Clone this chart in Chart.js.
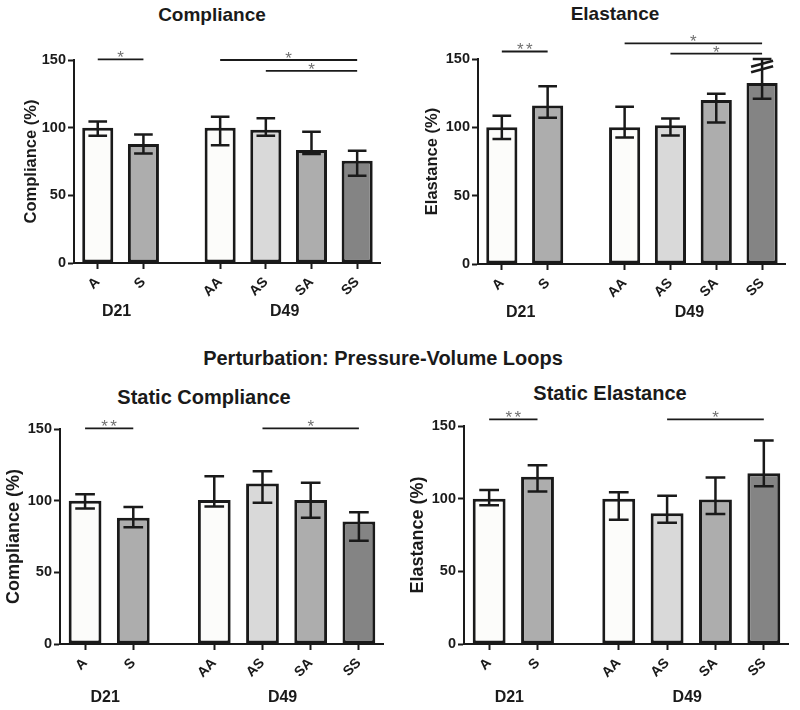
<!DOCTYPE html>
<html>
<head>
<meta charset="utf-8">
<script src="https://cdn.jsdelivr.net/npm/chart.js@4.4.0/dist/chart.umd.min.js"></script>
<style>
  body { margin: 0; background: #fff; width: 800px; height: 710px; position: relative; overflow: hidden;
         font-family: 'Liberation Sans', Arial, sans-serif; }
  .panel { position: absolute; }
  .t { position: absolute; font-weight: bold; color: #1a1a1a; white-space: nowrap; transform: translate(-50%, -50%); }
</style>
</head>
<body>
<div class="t" style="left:212px;top:15px;font-size:19px">Compliance</div>
<div class="t" style="left:615px;top:14px;font-size:19px">Elastance</div>
<div class="t" style="left:383px;top:358px;font-size:20px">Perturbation: Pressure-Volume Loops</div>
<div class="t" style="left:204px;top:397px;font-size:20px">Static Compliance</div>
<div class="t" style="left:610px;top:393px;font-size:20px">Static Elastance</div>

<div class="panel" style="left:0;top:0;width:400px;height:330px"><canvas id="c1"></canvas></div>
<div class="panel" style="left:400px;top:0;width:400px;height:330px"><canvas id="c2"></canvas></div>
<div class="panel" style="left:0;top:340px;width:400px;height:370px"><canvas id="c3"></canvas></div>
<div class="panel" style="left:400px;top:340px;width:400px;height:370px"><canvas id="c4"></canvas></div>

<script>
// groups and bars
const groups = ['D21', 'D49'];
const categories = ['A', 'S', 'AA', 'AS', 'SA', 'SS'];
const groupOf = ['D21', 'D21', 'D49', 'D49', 'D49', 'D49'];
const yTicks = [0, 50, 100, 150];

// dynamic compliance (%)
const complianceMean = [100, 88, 100, 98.5, 83.5, 75.5];
const complianceHi   = [104.5, 95, 108, 107, 97, 83];
const complianceLo   = [94, 81, 87, 94, 80.5, 64.5];
const complianceSig  = [['A', 'S', 150.5, '*'], ['AA', 'SS', 150, '*'], ['AS', 'SS', 142, '*']];

// dynamic elastance (%)
const elastanceMean = [100, 116, 100, 101.5, 120, 132.5];
const elastanceHi   = [108.5, 130, 115, 106.5, 124.5, 150];
const elastanceLo   = [91.5, 107, 92.5, 94, 103.5, 121];
const elastanceSig  = [['A', 'S', 155.5, '**'], ['AA', 'SS', 161.5, '*'], ['AS', 'SS', 154, '*']];

// static compliance (%)
const staticComplianceMean = [100, 88, 100.5, 112, 100.5, 85.5];
const staticComplianceHi   = [104.5, 95.5, 117, 120.5, 112.5, 92];
const staticComplianceLo   = [94.5, 81.5, 96, 98.5, 88, 72];
const staticComplianceSig  = [['A', 'S', 150.5, '**'], ['AS', 'SS', 150.5, '*']];

// static elastance (%)
const staticElastanceMean = [100, 115, 100, 90, 99.5, 117.5];
const staticElastanceHi   = [106, 123, 104.5, 102, 114.5, 140];
const staticElastanceLo   = [95.5, 105, 85.5, 83.5, 89.5, 108.5];
const staticElastanceSig  = [['A', 'S', 154.5, '**'], ['AS', 'SS', 154.5, '*']];

const INK = '#1a1a1a';
const FONT = "'Liberation Sans', Arial, sans-serif";
const fills = ['#fcfcfa', '#adadad', '#fcfcfa', '#d9d9d9', '#adadad', '#848484'];
const GAP = 0.68; // extra space between the D21 and D49 groups
const xPos = categories.map((c, i) => i + (groupOf[i] === 'D49' ? GAP : 0));

const marks = {
  id: 'marks',
  afterDatasetsDraw(chart, args, o) {
    const { ctx, scales: { x, y } } = chart;
    const bars = chart.getDatasetMeta(0).data;
    const px = c => x.getPixelForValue(xPos[categories.indexOf(c)]);
    ctx.save();
    ctx.strokeStyle = INK;
    ctx.lineCap = 'butt';

    // error bars
    ctx.lineWidth = 2.5;
    o.hi.forEach((h, i) => {
      const cx = x.getPixelForValue(xPos[i]);
      const half = bars[i].width * 0.3;
      const a = y.getPixelForValue(h), b = y.getPixelForValue(o.lo[i]);
      ctx.beginPath();
      ctx.moveTo(cx, a); ctx.lineTo(cx, b);
      ctx.moveTo(cx - half, a); ctx.lineTo(cx + half, a);
      ctx.moveTo(cx - half, b); ctx.lineTo(cx + half, b);
      ctx.stroke();
    });

    // axis break marks on an error bar
    (o.breaks || []).forEach(([c, v]) => {
      const cx = px(c), yy = y.getPixelForValue(v);
      ctx.beginPath();
      ctx.moveTo(cx - 11, yy + 3); ctx.lineTo(cx + 11, yy - 3);
      ctx.stroke();
    });

    // significance lines
    ctx.lineWidth = 1.8;
    ctx.fillStyle = '#707070';
    ctx.font = '17px ' + FONT;
    ctx.textAlign = 'center';
    ctx.textBaseline = 'alphabetic';
    o.sig.forEach(([a, b, v, label]) => {
      const x1 = px(a), x2 = px(b), yy = y.getPixelForValue(v);
      ctx.beginPath(); ctx.moveTo(x1, yy); ctx.lineTo(x2, yy); ctx.stroke();
      const mid = (x1 + x2) / 2;
      const n = label.length;
      for (let k = 0; k < n; k++) ctx.fillText('*', mid + (k - (n - 1) / 2) * 9, yy + 4);
    });

    // group labels
    ctx.fillStyle = INK;
    ctx.font = 'bold 16px ' + FONT;
    ctx.textBaseline = 'middle';
    groups.forEach(g => {
      const idx = groupOf.map((gg, i) => gg === g ? i : -1).filter(i => i >= 0);
      const cx = idx.reduce((s, i) => s + x.getPixelForValue(xPos[i]), 0) / idx.length;
      ctx.fillText(g, cx - 4, chart.chartArea.bottom + o.groupDy);
    });
    ctx.restore();
  }
};

function panel(id, p) {
  return new Chart(document.getElementById(id), {
    type: 'bar',
    data: {
      datasets: [{
        data: xPos.map((x, i) => ({ x, y: p.mean[i] })),
        backgroundColor: fills,
        borderColor: INK,
        borderWidth: 3,
        borderSkipped: false,
        barPercentage: 0.85,
        categoryPercentage: 0.8,
      }],
    },
    options: {
      responsive: true,
      maintainAspectRatio: false,
      animation: false,
      layout: { padding: { top: p.top, right: p.right, left: 0, bottom: 0 } },
      plugins: {
        legend: { display: false },
        tooltip: { enabled: false },
        marks: { hi: p.hi, lo: p.lo, sig: p.sig, breaks: p.breaks, groupDy: p.groupDy },
      },
      scales: {
        x: {
          type: 'linear',
          min: -0.52,
          max: xPos[xPos.length - 1] + 0.5,
          offset: false,
          afterBuildTicks: s => { s.ticks = xPos.map(v => ({ value: v })); },
          afterFit: s => { s.height = p.xHeight; },
          ticks: {
            autoSkip: false, minRotation: 45, maxRotation: 45, padding: 5,
            callback: (v, i) => categories[i],
            font: { family: FONT, size: 14, weight: 'bold' }, color: INK,
          },
          grid: { display: true, offset: false, drawOnChartArea: false, drawTicks: true,
                  tickLength: 6, tickWidth: 2, tickColor: INK },
          border: { display: true, color: INK, width: 2 },
        },
        y: {
          min: 0, max: 150,
          afterBuildTicks: s => { s.ticks = yTicks.map(v => ({ value: v })); },
          afterFit: s => { s.width = p.yWidth; },
          ticks: { padding: 2, font: { family: FONT, size: 14.5, weight: 'bold' }, color: INK },
          grid: { display: true, drawOnChartArea: false, drawTicks: true,
                  tickLength: 6, tickWidth: 2, tickColor: INK },
          border: { display: true, color: INK, width: 2 },
          title: { display: true, text: p.yTitle, color: INK, padding: { top: p.titlePad, bottom: 0 },
                   font: { family: FONT, size: p.titleSize, weight: 'bold' } },
        },
      },
    },
    plugins: [marks],
  });
}

panel('c1', { mean: complianceMean, hi: complianceHi, lo: complianceLo, sig: complianceSig,
  yTitle: 'Compliance (%)', top: 60, right: 20, yWidth: 74, xHeight: 67,
  titleSize: 16.5, titlePad: 22, groupDy: 49 });
panel('c2', { mean: elastanceMean, hi: elastanceHi, lo: elastanceLo, sig: elastanceSig,
  breaks: [['SS', 142.5], ['SS', 146.5]],
  yTitle: 'Elastance (%)', top: 59, right: 15, yWidth: 78, xHeight: 66,
  titleSize: 16.5, titlePad: 23, groupDy: 49 });
panel('c3', { mean: staticComplianceMean, hi: staticComplianceHi, lo: staticComplianceLo, sig: staticComplianceSig,
  yTitle: 'Compliance (%)', top: 89, right: 17, yWidth: 60, xHeight: 66,
  titleSize: 18, titlePad: 3.5, groupDy: 54 });
panel('c4', { mean: staticElastanceMean, hi: staticElastanceHi, lo: staticElastanceLo, sig: staticElastanceSig,
  yTitle: 'Elastance (%)', top: 86, right: 12, yWidth: 64, xHeight: 66,
  titleSize: 18, titlePad: 7, groupDy: 54 });
</script>
</body>
</html>
